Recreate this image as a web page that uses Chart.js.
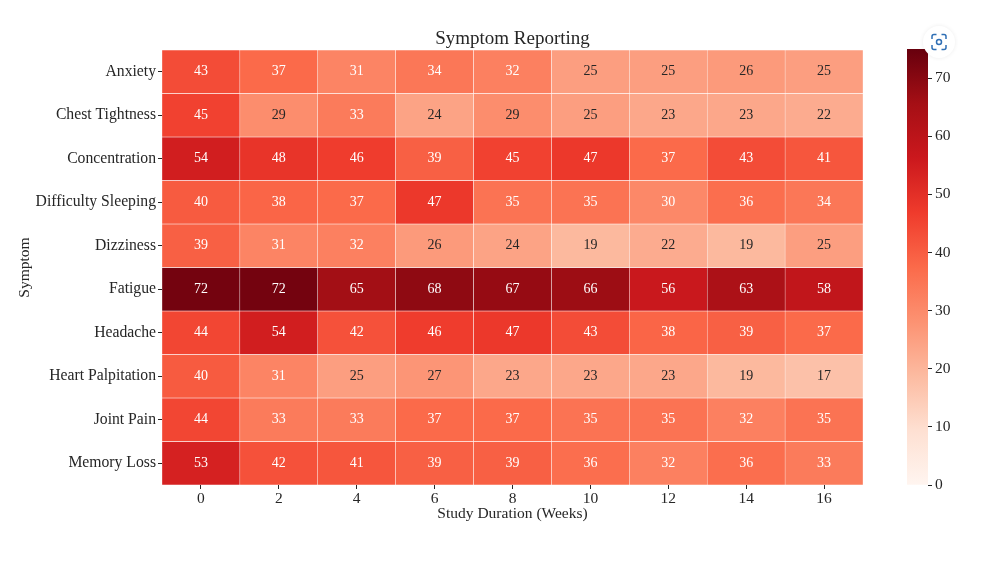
<!DOCTYPE html>
<html>
<head>
<meta charset="utf-8">
<title>Symptom Reporting</title>
<script src="https://cdn.jsdelivr.net/npm/chart.js@4"></script>
<style>
  html, body { margin: 0; padding: 0; background: #fff; }
  #wrap { position: relative; width: 981px; height: 566px; overflow: hidden; }
  #heatChart { position: absolute; left: 0; top: 0; }
  #barLegend { position: absolute; left: 880px; top: 0; }
  #lens { position: absolute; left: 923px; top: 26px; width: 32px; height: 32px; border-radius: 50%; background: #fff; box-shadow: 0 0 4px rgba(0,0,0,.08); }
</style>
</head>
<body>
<div id="wrap">
  <canvas id="heatChart" width="981" height="566" style="width:981px;height:566px"></canvas>
  <canvas id="barLegend" width="101" height="566" style="width:101px;height:566px"></canvas>
  <div id="lens">
    <svg width="32" height="32" viewBox="0 0 32 32" fill="none" stroke="#2f6fb5" stroke-width="1.5">
      <path d="M9 13v-2.5a2 2 0 0 1 2-2h2.5M18.5 8.5H21a2 2 0 0 1 2 2V13M23 19v2.5a2 2 0 0 1-2 2h-2.5M13.500 23.500H11a2 2 0 0 1-2-2V19"/>
      <circle cx="16" cy="16" r="2.500"/>
    </svg>
  </div>
</div>
<script>
const weeks = ['0', '2', '4', '6', '8', '10', '12', '14', '16'];
const symptoms = ['Anxiety', 'Chest Tightness', 'Concentration', 'Difficulty Sleeping', 'Dizziness',
  'Fatigue', 'Headache', 'Heart Palpitation', 'Joint Pain', 'Memory Loss'];

const anxiety       = [43, 37, 31, 34, 32, 25, 25, 26, 25];
const chestTight    = [45, 29, 33, 24, 29, 25, 23, 23, 22];
const concentration = [54, 48, 46, 39, 45, 47, 37, 43, 41];
const diffSleeping  = [40, 38, 37, 47, 35, 35, 30, 36, 34];
const dizziness     = [39, 31, 32, 26, 24, 19, 22, 19, 25];
const fatigue       = [72, 72, 65, 68, 67, 66, 56, 63, 58];
const headache      = [44, 54, 42, 46, 47, 43, 38, 39, 37];
const heartPalp     = [40, 31, 25, 27, 23, 23, 23, 19, 17];
const jointPain     = [44, 33, 33, 37, 37, 35, 35, 32, 35];
const memoryLoss    = [53, 42, 41, 39, 39, 36, 32, 36, 33];
const rows = [anxiety, chestTight, concentration, diffSleeping, dizziness,
  fatigue, headache, heartPalp, jointPain, memoryLoss];

const colorMin = 0;
const colorMax = 74;
const axisMax = 75;
const colorTicks = [0, 10, 20, 30, 40, 50, 60, 70];

// matplotlib "Reds"
const reds = ['#fff5f0', '#fee0d2', '#fcbba1', '#fc9272', '#fb6a4a', '#ef3b2c', '#cb181d', '#a50f15', '#67000d'];

const FONT = '"Liberation Serif", "Times New Roman", serif';
const INK = '#262626';

function hexToRgb(h) {
  return [1, 3, 5].map(i => parseInt(h.slice(i, i + 2), 16));
}

function valueColor(v) {
  const t = Math.min(1, Math.max(0, (v - colorMin) / (colorMax - colorMin))) * (reds.length - 1);
  const i = Math.min(reds.length - 2, Math.floor(t));
  const a = hexToRgb(reds[i]), b = hexToRgb(reds[i + 1]);
  const c = a.map((x, k) => Math.round(x + (b[k] - x) * (t - i)));
  return `rgb(${c[0]},${c[1]},${c[2]})`;
}

/* ============================================================
   CELL LABELS - value written in the middle of each bar
   ============================================================ */
const cellLabels = {
  id: 'cellLabels',
  afterDatasetsDraw(chart) {
    const ctx = chart.ctx;
    ctx.save();
    ctx.font = '14px ' + FONT;
    ctx.textAlign = 'center';
    ctx.textBaseline = 'middle';
    chart.data.datasets.forEach((ds, d) => {
      chart.getDatasetMeta(d).data.forEach((bar, i) => {
        const v = ds.data[i].value;
        ctx.fillStyle = v >= 30 ? '#fff' : INK;
        ctx.fillText(String(v), bar.x, (bar.y + bar.base) / 2);
      });
    });
    ctx.restore();
  }
};

/* ============================================================
   HEATMAP - one floating bar per cell
   ============================================================ */
new Chart(document.getElementById('heatChart'), {
  type: 'bar',
  data: {
    labels: weeks,
    datasets: rows.map((row, r) => ({
      label: symptoms[r],
      data: row.map((v, c) => ({ x: weeks[c], y: [r, r + 1], value: v })),
      backgroundColor: row.map(valueColor),
      borderColor: 'rgba(255,255,255,0.85)',
      borderWidth: 0.5,
      borderSkipped: false,
      grouped: false,
      categoryPercentage: 1,
      barPercentage: 1
    }))
  },
  plugins: [cellLabels],
  options: {
    responsive: false,
    animation: false,
    layout: { padding: { left: 16, right: 118, top: 27.2, bottom: 41 } },
    plugins: {
      legend: { display: false },
      tooltip: { enabled: false },
      title: {
        display: true,
        fullSize: false,
        text: 'Symptom Reporting',
        color: INK,
        padding: 0,
        font: { family: FONT, size: 19, weight: 'normal', lineHeight: 1.2 }
      }
    },
    scales: {
      x: {
        type: 'category',
        offset: true,
        afterFit: s => { s.height = 40; },
        border: { display: false },
        grid: { display: true, drawOnChartArea: false, drawTicks: true, tickLength: 4, color: INK, offset: false },
        ticks: { color: INK, padding: 1, maxRotation: 0, font: { family: FONT, size: 15.5 } },
        title: {
          display: true,
          text: 'Study Duration (Weeks)',
          color: INK,
          padding: 2,
          font: { family: FONT, size: 15.5, lineHeight: 1.2 }
        }
      },
      y: {
        type: 'linear',
        reverse: true,
        min: 0,
        max: symptoms.length,
        afterFit: s => { s.width = 146; },
        afterBuildTicks: s => { s.ticks = symptoms.map((name, i) => ({ value: i + 0.5 })); },
        border: { display: false },
        grid: { display: true, drawOnChartArea: false, drawTicks: true, tickLength: 4, color: INK },
        ticks: {
          color: INK,
          padding: 2,
          autoSkip: false,
          callback: (value, i) => symptoms[i],
          font: { family: FONT, size: 15.7 }
        },
        title: {
          display: true,
          text: 'Symptom',
          color: INK,
          padding: 0,
          font: { family: FONT, size: 15.5, lineHeight: 1.2 }
        }
      }
    }
  }
});

/* ============================================================
   COLOUR BAR - single bar over the value range, gradient fill
   ============================================================ */
function colorbarFill(context) {
  const chart = context.chart;
  const area = chart.chartArea;
  if (!area) return reds[4];
  const grad = chart.ctx.createLinearGradient(0, area.bottom, 0, area.top);
  reds.forEach((c, i) => grad.addColorStop(i / (reds.length - 1), c));
  return grad;
}

new Chart(document.getElementById('barLegend'), {
  type: 'bar',
  data: {
    labels: ['scale'],
    datasets: [{
      data: [[colorMin, axisMax]],
      backgroundColor: colorbarFill,
      borderWidth: 0,
      categoryPercentage: 1,
      barPercentage: 1
    }]
  },
  options: {
    responsive: false,
    animation: false,
    layout: { padding: { left: 27, right: 0, top: 49, bottom: 81 } },
    plugins: { legend: { display: false }, tooltip: { enabled: false } },
    scales: {
      x: { display: false },
      y: {
        type: 'linear',
        position: 'right',
        min: colorMin,
        max: axisMax,
        afterFit: s => { s.width = 53; },
        afterBuildTicks: s => { s.ticks = colorTicks.map(v => ({ value: v })); },
        border: { display: false },
        grid: { display: true, drawOnChartArea: false, drawTicks: true, tickLength: 4, color: INK },
        ticks: { color: INK, padding: 3, font: { family: FONT, size: 15.5 } }
      }
    }
  }
});
</script>
</body>
</html>
